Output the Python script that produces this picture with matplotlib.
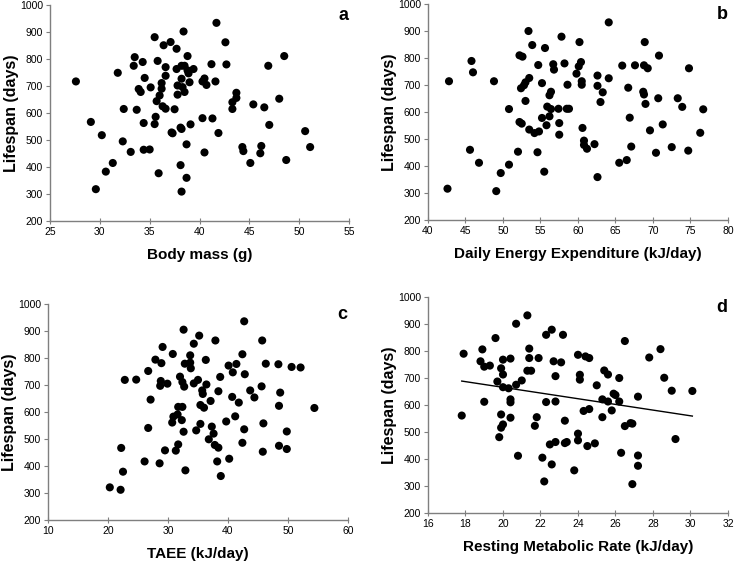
import numpy as np
import matplotlib
matplotlib.use("Agg")
import matplotlib.pyplot as plt

plt.rcParams["font.family"] = ["Liberation Sans", "DejaVu Sans"]

# panel a: body mass (g) vs lifespan (days)
mass = [27.6, 31.8, 33.5, 33.4, 34.3, 35.5, 36.4, 37.1, 37.7, 38.4,
        38.8, 35.8, 36.6, 36.6, 34.5, 35.1, 33.9, 34.1, 36.2, 36.2,
        36.0, 35.7, 36.3, 36.6, 37.5, 37.8, 38.5, 38.3, 37.8, 38.2,
        39.0, 37.7, 38.2, 38.5, 38.8, 38.9, 39.4, 41.7, 42.6, 41.2,
        42.7, 40.5, 40.7, 40.3, 41.6, 43.7, 43.7, 43.3, 43.3, 45.4,
        46.5, 48.0, 46.9, 48.5, 47.0, 50.6, 51.1, 48.7, 46.2, 46.1,
        45.1, 44.3, 44.4, 41.9, 41.3, 40.3, 40.5, 39.1, 38.2, 38.1,
        37.3, 37.2, 38.7, 38.1, 38.7, 38.2, 35.9, 35.0, 34.4, 33.1,
        32.3, 31.3, 30.6, 29.6, 30.2, 29.1, 32.4, 33.7, 34.4, 35.5,
        35.6]
life_a = [717, 749, 807, 775, 789, 881, 851, 863, 838, 902,
          811, 793, 770, 738, 730, 695, 689, 678, 711, 690,
          665, 644, 625, 616, 614, 668, 678, 696, 702, 727,
          714, 763, 775, 775, 758, 747, 763, 934, 862, 781,
          780, 728, 704, 717, 717, 675, 656, 640, 615, 632,
          621, 653, 775, 811, 556, 533, 474, 426, 478, 451,
          415, 474, 459, 526, 580, 581, 454, 558, 541, 546,
          525, 528, 484, 407, 360, 309, 377, 465, 464, 456,
          495, 415, 383, 318, 518, 567, 615, 612, 563, 559,
          586]

# panel b: daily energy expenditure (kJ/day)
dee = [42.8, 42.6, 45.8, 46.0, 48.8, 45.6, 46.8, 49.1, 49.7, 50.8,
       50.8, 52.0, 52.2, 52.5, 53.0, 53.5, 54.2, 54.8, 54.6, 55.5,
       55.2, 55.8, 56.2, 55.9, 56.4, 57.5, 57.5, 57.4, 58.5, 58.8,
       56.2, 56.4, 55.2, 52.4, 52.8, 53.0, 53.5, 52.2, 52.6, 53.4,
       53.9, 55.6, 54.7, 56.7, 56.8, 58.2, 57.8, 58.6, 59.8, 60.2,
       60.1, 60.4, 60.5, 60.5, 60.6, 60.8, 60.8, 61.2, 62.2, 62.6,
       62.6, 62.6, 63.3, 63.0, 64.1, 64.1, 65.9, 66.7, 66.9, 67.1,
       66.5, 65.5, 67.6, 68.9, 68.8, 69.3, 70.8, 68.7, 68.8, 69.0,
       70.7, 69.6, 71.3, 70.4, 72.5, 73.3, 73.9, 74.8, 74.7, 76.3,
       76.7]
life_b = [714, 316, 789, 747, 714, 460, 412, 307, 374, 405,
          611, 453, 563, 557, 641, 535, 522, 528, 451, 379,
          578, 551, 584, 620, 611, 559, 516, 612, 612, 612,
          662, 675, 707, 688, 699, 710, 726, 810, 805, 900,
          848, 837, 774, 777, 757, 780, 879, 701, 742, 859,
          769, 785, 714, 701, 541, 494, 478, 464, 481, 359,
          735, 697, 673, 637, 932, 725, 772, 690, 579, 472,
          422, 412, 773, 859, 773, 762, 809, 675, 665, 630,
          651, 532, 554, 449, 470, 651, 619, 762, 457, 523,
          610]

# panel c: TAEE (kJ/day)
taee = [20.3, 22.1, 22.5, 22.2, 22.8, 24.7, 26.1, 26.7, 27.1, 26.7,
        27.9, 28.9, 29.1, 30.8, 32.6, 35.2, 34.3, 33.7, 32.8, 33.7,
        33.8, 28.8, 28.7, 29.9, 32.0, 32.4, 32.7, 34.3, 35.0, 36.4,
        35.7, 35.8, 36.3, 37.9, 38.7, 38.4, 37.1, 35.4, 36.0, 31.7,
        32.4, 31.6, 30.9, 30.7, 32.3, 32.6, 34.7, 35.4, 37.3, 37.6,
        36.8, 37.8, 38.4, 38.2, 38.8, 40.2, 32.9, 31.7, 31.3, 29.5,
        28.6, 39.7, 41.2, 40.7, 41.8, 40.1, 40.8, 41.4, 42.4, 42.8,
        42.7, 45.7, 46.3, 43.7, 44.4, 45.6, 42.7, 42.4, 45.9, 45.8,
        48.5, 49.8, 49.8, 48.5, 48.7, 48.4, 50.6, 52.1, 54.4]
life_c = [321, 312, 379, 467, 719, 720, 417, 541, 646, 752,
          794, 781, 841, 815, 905, 883, 853, 810, 779, 783,
          762, 715, 697, 705, 731, 711, 694, 706, 719, 702,
          680, 667, 793, 865, 730, 677, 641, 626, 616, 619,
          619, 591, 583, 561, 570, 527, 532, 556, 546, 520,
          499, 478, 468, 417, 363, 427, 384, 480, 457, 458,
          410, 565, 584, 656, 635, 772, 747, 778, 814, 740,
          936, 865, 779, 680, 654, 695, 536, 486, 558, 453,
          475, 463, 528, 623, 672, 777, 767, 765, 615]

# panel d: resting metabolic rate (kJ/day)
rmr = [17.8, 17.9, 18.8, 18.9, 19.0, 19.3, 19.0, 19.6, 19.7, 19.9,
       20.0, 20.0, 20.0, 20.3, 20.4, 20.4, 20.4, 19.9, 20.0, 19.9,
       19.8, 20.4, 20.7, 20.7, 21.0, 21.3, 21.4, 21.4, 21.3, 21.5,
       21.9, 21.7, 21.8, 20.8, 22.1, 22.3, 22.6, 23.2, 22.7, 23.1,
       22.8, 22.3, 22.8, 23.3, 22.5, 22.8, 22.6, 22.2, 23.3, 23.4,
       23.8, 24.0, 24.0, 24.0, 24.1, 24.1, 24.4, 24.6, 24.5, 24.9,
       24.3, 24.6, 25.0, 25.3, 25.4, 25.6, 25.3, 25.6, 25.8, 25.9,
       26.0, 26.2, 26.2, 26.5, 26.5, 26.8, 26.9, 26.3, 27.2, 27.2,
       26.9, 27.2, 27.8, 28.4, 28.6, 29.0, 29.2, 30.1]
life_d = [561, 790, 762, 806, 742, 746, 612, 848, 687, 736,
          768, 713, 666, 662, 772, 621, 610, 565, 528, 516,
          481, 553, 901, 675, 691, 932, 809, 774, 727, 727,
          774, 523, 555, 412, 405, 860, 879, 860, 762, 758,
          707, 611, 613, 542, 454, 463, 380, 317, 459, 463,
          358, 494, 469, 786, 712, 694, 780, 774, 448, 458,
          578, 585, 673, 555, 728, 713, 621, 613, 580, 642,
          637, 700, 613, 837, 522, 533, 531, 423, 413, 375,
          307, 631, 776, 807, 701, 653, 474, 652]

fig = plt.figure(figsize=(7.34, 5.65), dpi=100)

panels = [
    ([0.0681, 0.6088, 0.4074, 0.3823], mass, life_a, (25, 55, 5), "Body mass (g)", "a"),
    ([0.5831, 0.6106, 0.4087, 0.3823], dee, life_b, (40, 80, 5), "Daily Energy Expenditure (kJ/day)", "b"),
    ([0.0654, 0.0796, 0.4087, 0.3823], taee, life_c, (10, 60, 10), "TAEE (kJ/day)", "c"),
    ([0.5831, 0.0920, 0.4087, 0.3823], rmr, life_d, (16, 32, 2), "Resting Metabolic Rate (kJ/day)", "d"),
]

for rect, xs, ys, (x0, x1, step), xlabel, tag in panels:
    ax = fig.add_axes(rect)
    ax.scatter(xs, ys, s=34, color="black", edgecolors="none", zorder=3)
    ax.set_xlim(x0, x1)
    ax.set_ylim(200, 1000)
    ax.set_xticks(np.arange(x0, x1 + step / 2, step))
    ax.set_yticks(np.arange(200, 1001, 100))
    for side in ["top", "right"]:
        ax.spines[side].set_visible(False)
    for side in ["left", "bottom"]:
        ax.spines[side].set_color("#7f7f7f")
        ax.spines[side].set_linewidth(1.0)
    ax.tick_params(direction="out", length=3, width=0.8, color="#7f7f7f",
                   labelsize=7.5, pad=2)
    ax.tick_params(axis="x", direction="inout", length=5)
    ax.set_xlabel(xlabel, fontsize=11, fontweight="bold", labelpad=8)
    ax.set_ylabel("Lifespan (days)", fontsize=11.5, fontweight="bold", labelpad=1)
    ax.text(0.98, 0.95, tag, transform=ax.transAxes, fontsize=13,
            fontweight="bold", ha="center", va="center")
    if tag == "d":
        # least squares trend line
        k, b = np.polyfit(xs, ys, 1)
        xx = np.array([min(xs), max(xs)])
        ax.plot(xx, k * xx + b, color="black", linewidth=1.0, zorder=2)

fig.savefig("out.png", dpi=100)
